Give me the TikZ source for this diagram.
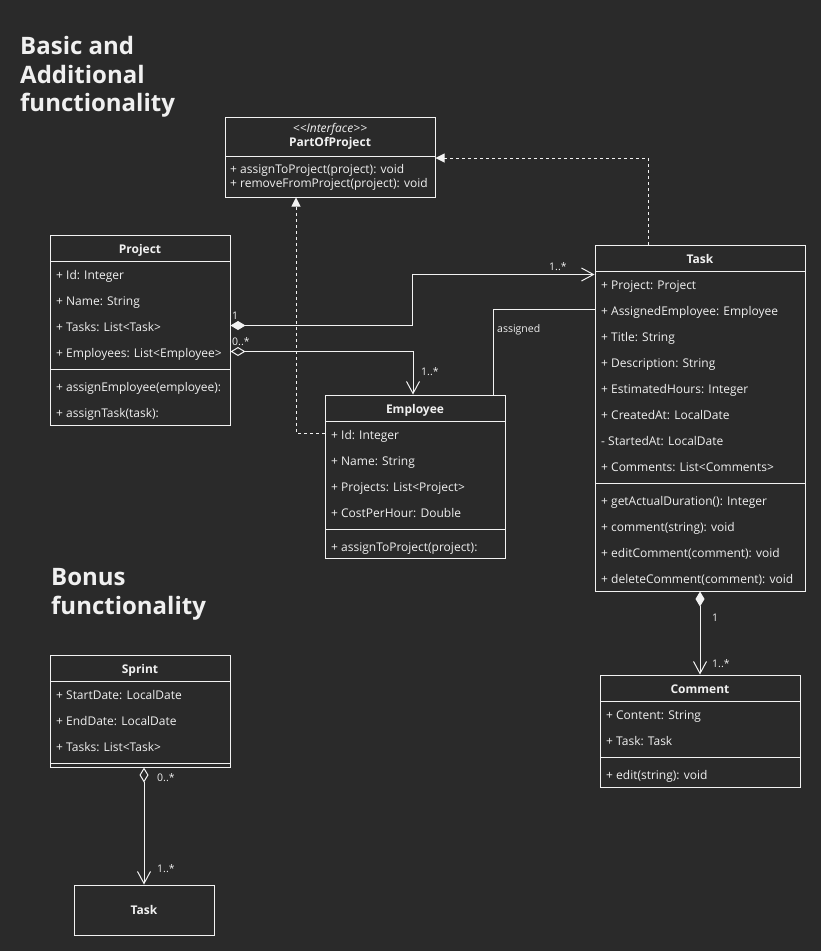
\documentclass[tikz,border=0pt]{standalone}
\usepackage{fontspec}
\setmainfont{Open Sans}
\usetikzlibrary{arrows.meta}
\definecolor{canvas}{HTML}{2A2A2A}
\definecolor{ink}{HTML}{F0F0F0}
\definecolor{edge}{HTML}{F2F2F2}

\begin{document}
\begin{tikzpicture}[
    x=1pt,
    y=-1pt,
    font=\fontsize{12}{14}\selectfont,
    text=ink,
    classbox/.style={draw=edge, line width=1pt, inner sep=0pt},
    cname/.style={font=\fontsize{12}{14}\selectfont\bfseries, anchor=base, inner sep=0pt},
    member/.style={anchor=base west, inner sep=0pt},
    divider/.style={draw=edge, line width=1pt},
    mult/.style={font=\fontsize{10.5}{12}\selectfont, anchor=base west, inner sep=0pt},
    heading/.style={font=\fontsize{24}{29}\selectfont\bfseries, anchor=base west, inner sep=0pt},
    link/.style={draw=edge, line width=1pt},
    assoc/.style={link, -{Straight Barb[length=12pt,width=13pt]}},
    compose/.style={link, {Diamond[length=15pt,width=9pt]}-{Straight Barb[length=12pt,width=13pt]}},
    aggregate/.style={link, {Diamond[open,length=15pt,width=9pt]}-{Straight Barb[length=12pt,width=13pt]}},
    realize/.style={link, dash pattern=on 3pt off 3pt, -{Triangle[length=9pt,width=9pt]}}
]

\fill[canvas, use as bounding box] (0,0) rectangle (821,951);

% Section headings.
\node[heading] (basicA) at (20,54) {Basic and};
\node[heading] (basicB) at (20,83) {Additional};
\node[heading] (basicC) at (20,111.5) {functionality};
\node[heading] (bonusA) at (51,585) {Bonus};
\node[heading] (bonusB) at (51,614) {functionality};

% Interface shared by employees and tasks.
\node[classbox, minimum width=210pt, minimum height=80pt] (iface) at (330,157) {};
\node[font=\fontsize{12}{14}\selectfont\itshape, anchor=base, inner sep=0pt]
    (ifaceStereo) at (330,132) {<\kern0pt<Interface>\kern0pt>};
\node[cname] (ifaceName) at (330,146) {PartOfProject};
\draw[divider] (225,156) -- (435,156);
\node[member] (iface-m1) at (230,173.5) {+ assignToProject(project): void};
\node[member] (iface-m2) at (230,187.5) {+ removeFromProject(project): void};

% Project.
\node[classbox, minimum width=180pt, minimum height=190pt] (project) at (140,330) {};
\node[cname] (projectName) at (140,253) {Project};
\draw[divider] (50,261) -- (230,261);
\foreach \m [count=\i] in {+ Id: Integer, + Name: String, + Tasks: List<Task>,
        + Employees: List<Employee>}
    \node[member] (project-a\i) at (56,{253+26*\i}) {\m};
\draw[divider] (50,369) -- (230,369);
\foreach \m [count=\i] in {+ assignEmployee(employee):, + assignTask(task):}
    \node[member] (project-m\i) at (56,{365+26*\i}) {\m};

% Task.
\node[classbox, minimum width=210pt, minimum height=346pt] (task) at (700,418) {};
\node[cname] (taskName) at (700,263) {Task};
\draw[divider] (595,271) -- (805,271);
\foreach \m [count=\i] in {+ Project: Project, + AssignedEmployee: Employee,
        + Title: String, + Description: String, + EstimatedHours: Integer,
        + CreatedAt: LocalDate, - StartedAt: LocalDate, + Comments: List<Comments>}
    \node[member] (task-a\i) at (601,{263+26*\i}) {\m};
\draw[divider] (595,483) -- (805,483);
\foreach \m [count=\i] in {+ getActualDuration(): Integer, + comment(string): void,
        + editComment(comment): void, + deleteComment(comment): void}
    \node[member] (task-m\i) at (601,{479+26*\i}) {\m};

% Employee.
\node[classbox, minimum width=180pt, minimum height=163pt] (employee) at (415,476.5) {};
\node[cname] (employeeName) at (415,413) {Employee};
\draw[divider] (325,421) -- (505,421);
\foreach \m [count=\i] in {+ Id: Integer, + Name: String, + Projects: List<Project>,
        + CostPerHour: Double}
    \node[member] (employee-a\i) at (331,{413+26*\i}) {\m};
\draw[divider] (325,529) -- (505,529);
\node[member] (employee-m1) at (331,551) {+ assignToProject(project):};

% Comment.
\node[classbox, minimum width=200pt, minimum height=112pt] (comment) at (700,731) {};
\node[cname] (commentName) at (700,693) {Comment};
\draw[divider] (600,701) -- (800,701);
\foreach \m [count=\i] in {+ Content: String, + Task: Task}
    \node[member] (comment-a\i) at (606,{693+26*\i}) {\m};
\draw[divider] (600,757) -- (800,757);
\node[member] (comment-m1) at (606,779) {+ edit(string): void};

% Bonus: sprint.
\node[classbox, minimum width=180pt, minimum height=112pt] (sprint) at (140,711) {};
\node[cname] (sprintName) at (140,673) {Sprint};
\draw[divider] (50,681) -- (230,681);
\foreach \m [count=\i] in {+ StartDate: LocalDate, + EndDate: LocalDate, + Tasks: List<Task>}
    \node[member] (sprint-a\i) at (56,{673+26*\i}) {\m};
\draw[divider] (50,763) -- (230,763);

\node[classbox, minimum width=140pt, minimum height=50pt] (sprintTask) at (144,910) {};
\node[cname] (sprintTaskName) at (144,914) {Task};

% Associations.
\draw[compose] ([yshift=-91pt]project.north east) -- ++(182,0)
    |- ([yshift=-30pt]task.north west);
\node[mult] (projTaskOne) at (232,319) {1};
\node[mult] (projTaskMany) at (549,270) {1..*};

\draw[aggregate] ([yshift=-117pt]project.north east) -| ([xshift=-2pt]employee.north);
\node[mult] (projEmpMany) at (232,345) {0..*};
\node[mult] (empProjMany) at (421,375) {1..*};

\draw[link] ([yshift=-65pt]task.north west) -| ([xshift=78pt]employee.north);
\node[mult] (assignedLabel) at (497,332) {assigned};

\draw[compose] (task.south) -- (comment.north);
\node[mult] (taskCommentOne) at (712,621) {1};
\node[mult] (taskCommentMany) at (712,667) {1..*};

\draw[aggregate] ([xshift=4pt]sprint.south) -- (sprintTask.north);
\node[mult] (sprintTaskOne) at (157,781) {0..*};
\node[mult] (sprintTaskMany) at (157,872) {1..*};

% Realizations of the interface.
\draw[realize] ([yshift=-39pt]employee.north west) -| ([xshift=-34pt]iface.south);
\draw[realize] ([xshift=-52pt]task.north) |- ([yshift=-1pt]iface.east);

\end{tikzpicture}
\end{document}
